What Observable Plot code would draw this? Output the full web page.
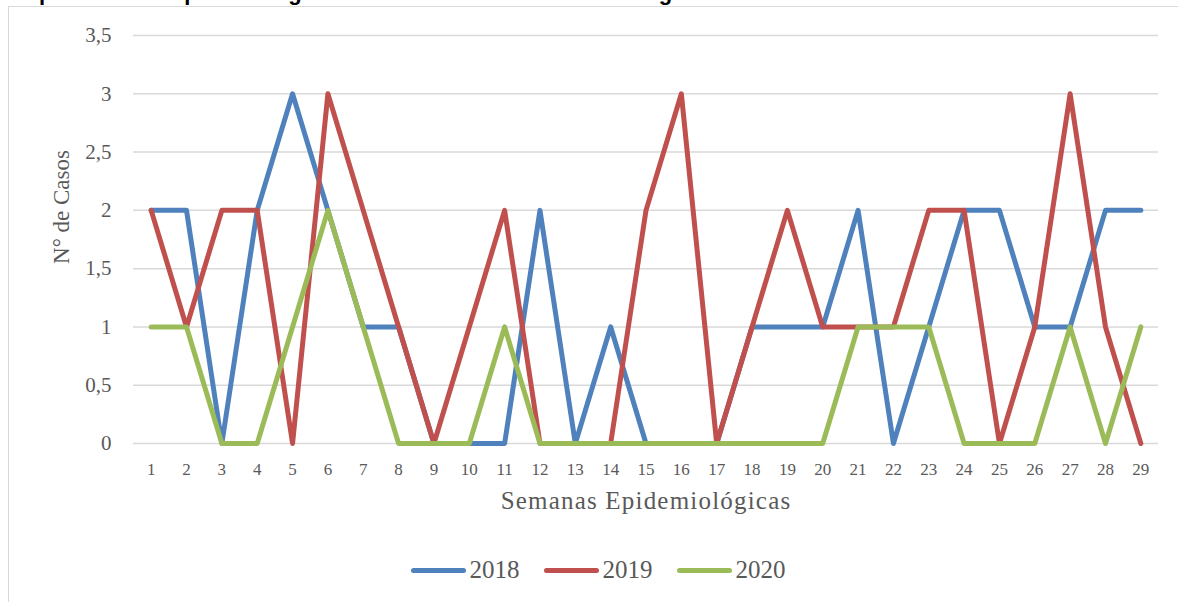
<!DOCTYPE html>
<html>
<head>
<meta charset="utf-8">
<script src="https://cdn.jsdelivr.net/npm/d3@7"></script>
<script src="https://cdn.jsdelivr.net/npm/@observablehq/plot@0.6"></script>
<style>
  html, body { margin: 0; padding: 0; background: #fff; }
  #wrap { position: relative; width: 1178px; height: 602px; overflow: hidden; background: #fff; }
  #title { position: absolute; left: -10px; top: -18px; font: bold 22px "Liberation Sans", Arial, sans-serif; line-height: 22px; color: #000; white-space: nowrap; }
  #frame { position: absolute; left: 8px; top: 6px; width: 1300px; height: 700px; border-left: 1.5px solid #d9d9d9; border-top: 1.5px solid #d9d9d9; background: #fff; }
  #chart { position: absolute; left: 0; top: 0; }
  #ylabel { position: absolute; left: 62px; top: 207px; transform: translate(-50%, -50%) rotate(-90deg); font: 23px "Liberation Serif", serif; color: #595959; white-space: nowrap; }
  #legend { position: absolute; left: 0; top: 556px; width: 1178px; display: flex; justify-content: center; align-items: center; font: 25px "Liberation Serif", serif; color: #595959; padding-left: 18px; box-sizing: border-box; }
  .item { display: flex; align-items: center; margin: 0 12px; }
  .sw { width: 55px; height: 5px; border-radius: 3px; margin-right: 4px; }
</style>
</head>
<body>
<div id="wrap">
  <div id="title">Comportamiento epidemiológico semanal en el distrito de Cartagena 2018-2020</div>
  <div id="frame"></div>
  <div id="chart"></div>
  <div id="ylabel"></div>
  <div id="legend"></div>
</div>
<script>
const weeks = d3.range(1, 30);
const years = ["2018", "2019", "2020"];
const colors = ["#4F81BD", "#C0504D", "#9BBB59"];
const cases2018 = [2,2,0,2,3,2,1,1,0,0,0,2,0,1,0,0,0,1,1,1,2,0,1,2,2,1,1,2,2];
const cases2019 = [2,1,2,2,0,3,2,1,0,1,2,0,0,0,2,3,0,1,2,1,1,1,2,2,0,1,3,1,0];
const cases2020 = [1,1,0,0,1,2,1,0,0,0,1,0,0,0,0,0,0,0,0,0,1,1,1,0,0,0,1,0,1];
const yTicks = [0, 0.5, 1, 1.5, 2, 2.5, 3, 3.5];
const xLabel = "Semanas Epidemiológicas";
const yLabel = "N° de Casos";

const series = [cases2018, cases2019, cases2020];
const data = [];
years.forEach((yr, i) => weeks.forEach((w, j) => data.push({week: w, value: series[i][j], year: yr})));

const fmt = d => String(d).replace(".", ",");

const chart = Plot.plot({
  width: 1178,
  height: 530,
  marginLeft: 133,
  marginRight: 20,
  marginTop: 35,
  marginBottom: 87,
  style: { background: "transparent", fontFamily: "'Liberation Serif', serif", color: "#595959" },
  x: { type: "point", domain: weeks, padding: 0.5, round: false },
  y: { domain: [0, 3.5] },
  color: { domain: years, range: colors },
  marks: [
    Plot.ruleY(yTicks, { stroke: "#d9d9d9", strokeWidth: 1.5 }),
    Plot.axisY({ ticks: yTicks, tickFormat: fmt, tickSize: 0, tickPadding: 22, fontSize: 21, label: null, fill: "#595959" }),
    Plot.axisX({ ticks: weeks, tickSize: 0, tickPadding: 19, fontSize: 17, label: null, fill: "#595959" }),
    Plot.line(data, { x: "week", y: "value", stroke: "year", z: "year", strokeWidth: 5, strokeLinecap: "round", strokeLinejoin: "round" }),
    Plot.text([xLabel], { frameAnchor: "bottom", dy: 65, fontSize: 25, fill: "#595959", className: "xlab" })
  ]
});
document.getElementById("chart").appendChild(chart);
d3.select(chart).selectAll(".xlab text").style("letter-spacing", "1.2px");

document.getElementById("ylabel").textContent = yLabel;

const legend = document.getElementById("legend");
years.forEach((yr, i) => {
  const it = document.createElement("div");
  it.className = "item";
  const sw = document.createElement("div");
  sw.className = "sw";
  sw.style.background = colors[i];
  const t = document.createElement("span");
  t.textContent = yr;
  it.appendChild(sw); it.appendChild(t);
  legend.appendChild(it);
});
</script>
</body>
</html>
